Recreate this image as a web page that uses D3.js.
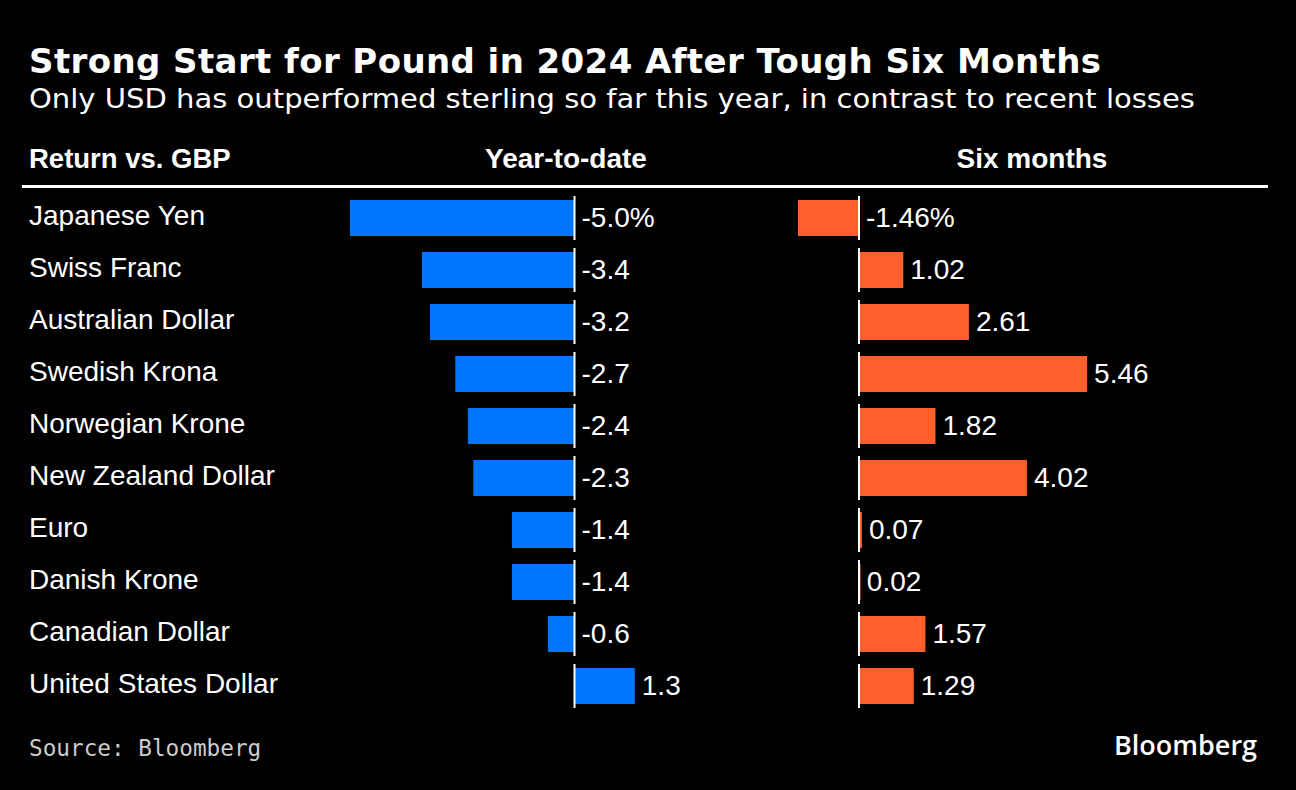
<!DOCTYPE html>
<html><head><meta charset="utf-8">
<script src="https://cdn.jsdelivr.net/npm/d3@7"></script>
<style>
html,body{margin:0;padding:0;background:#000;}
svg{display:block;}
</style></head>
<body>
<svg id="chart" width="1296" height="790"></svg>
<script>
const categories = ["Japanese Yen","Swiss Franc","Australian Dollar","Swedish Krona","Norwegian Krone","New Zealand Dollar","Euro","Danish Krone","Canadian Dollar","United States Dollar"];
const ytdValues = [-4.99,-3.39,-3.21,-2.65,-2.37,-2.25,-1.39,-1.39,-0.59,1.34];
const sixMonthValues = [-1.46,1.06,2.63,5.46,1.83,4.02,0.07,0.02,1.59,1.31];
const ytdLabels = ["-5.0%","-3.4","-3.2","-2.7","-2.4","-2.3","-1.4","-1.4","-0.6","1.3"];
const sixMonthLabels = ["-1.46%","1.02","2.61","5.46","1.82","4.02","0.07","0.02","1.57","1.29"];

const svg = d3.select("#chart");
svg.append("rect").attr("width",1296).attr("height",790).attr("fill","#000");

svg.append("text").attr("x",29).attr("y",73)
  .attr("font-family","DejaVu Sans").attr("font-weight","bold").attr("font-size",34)
  .attr("textLength",1072).attr("lengthAdjust","spacing")
  .attr("fill","#fff").text("Strong Start for Pound in 2024 After Tough Six Months");
svg.append("text").attr("x",29).attr("y",108)
  .attr("font-family","DejaVu Sans").attr("font-stretch","condensed").attr("font-size",27)
  .attr("textLength",1166).attr("lengthAdjust","spacingAndGlyphs")
  .attr("fill","#fff").text("Only USD has outperformed sterling so far this year, in contrast to recent losses");

const hdrFont = "Liberation Sans";
svg.append("text").attr("x",29).attr("y",168).attr("font-family",hdrFont).attr("font-weight","bold")
  .attr("font-size",27.5).attr("fill","#fff").text("Return vs. GBP");
svg.append("text").attr("x",566).attr("y",168).attr("text-anchor","middle").attr("font-family",hdrFont).attr("font-weight","bold")
  .attr("font-size",28).attr("fill","#fff").text("Year-to-date");
svg.append("text").attr("x",1032).attr("y",168).attr("text-anchor","middle").attr("font-family",hdrFont).attr("font-weight","bold")
  .attr("font-size",28).attr("fill","#fff").text("Six months");
svg.append("rect").attr("x",22).attr("y",185).attr("width",1246).attr("height",3).attr("fill","#fff");

const y = d3.scaleBand().domain(categories).range([192,712]).paddingInner(16/52).paddingOuter(8/52);
const xY = d3.scaleLinear().domain([-5,0]).range([349.5,574.5]);
const xS = d3.scaleLinear().domain([-1.46,0]).range([798,859]);

// row labels
svg.append("g").selectAll("text").data(categories).join("text")
  .attr("x",29).attr("y",d=>y(d)+y.bandwidth()/2+7)
  .attr("font-family","Liberation Sans").attr("font-size",28).attr("fill","#fff").text(d=>d);

function panel(xs, vals, labels, color){
  const g = svg.append("g");
  const data = categories.map((c,i)=>({c, v:vals[i], l:labels[i]}));
  g.selectAll("rect.bar").data(data).join("rect").attr("class","bar")
    .attr("x",d=>Math.min(xs(0),xs(d.v))).attr("y",d=>y(d.c))
    .attr("width",d=>Math.max(1.5,Math.abs(xs(d.v)-xs(0)))).attr("height",y.bandwidth())
    .attr("fill",color);
  g.selectAll("line.zero").data(data).join("line").attr("class","zero")
    .attr("x1",xs(0)).attr("x2",xs(0))
    .attr("y1",d=>y(d.c)-4).attr("y2",d=>y(d.c)+y.bandwidth()+4)
    .attr("stroke","#fff").attr("stroke-width",2);
  g.selectAll("text.val").data(data).join("text").attr("class","val")
    .attr("x",d=>Math.max(xs(0),xs(d.v))+7).attr("y",d=>y(d.c)+y.bandwidth()/2+9)
    .attr("font-family","Liberation Sans").attr("font-size",28).attr("fill","#fff").text(d=>d.l);
}
panel(xY, ytdValues, ytdLabels, "#0076ff");
panel(xS, sixMonthValues, sixMonthLabels, "#ff5f2a");

svg.append("text").attr("x",29).attr("y",756)
  .attr("font-family","DejaVu Sans Mono").attr("font-size",22.7).attr("fill","#ccc").text("Source: Bloomberg");
svg.append("text").attr("x",1257).attr("y",755).attr("text-anchor","end")
  .attr("font-family","Open Sans").attr("font-weight",600).attr("font-size",27).attr("fill","#fff").text("Bloomberg");
</script>
</body></html>
